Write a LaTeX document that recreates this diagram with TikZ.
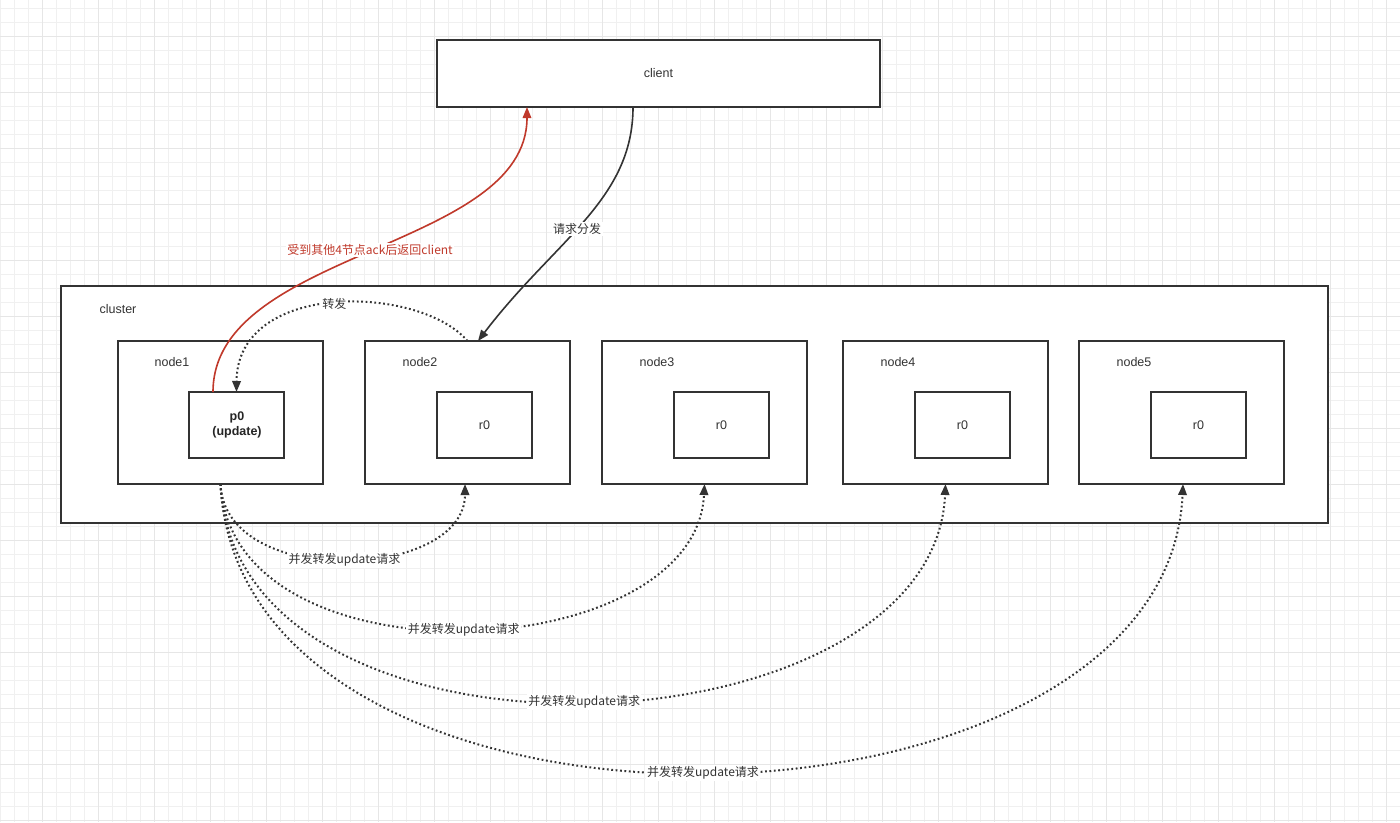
\documentclass[tikz,border=0pt]{standalone}
\usepackage{fontspec}
\setmainfont{Liberation Sans}
\newfontfamily\cjk{Noto Sans CJK SC}
\usetikzlibrary{arrows.meta}
\definecolor{ink}{HTML}{333333}
\definecolor{redline}{HTML}{C0392B}
\definecolor{gridminor}{HTML}{F0F0F0}
\definecolor{gridmajor}{HTML}{E6E6E6}
\tikzset{
  box/.style={draw=ink, line width=2pt, fill=white, inner sep=0pt, outer sep=0pt},
  lbl/.style={text=ink, font=\fontsize{12.5}{15}\selectfont, inner sep=1pt},
  clbl/.style={text=ink, font=\cjk\fontsize{12}{15}\selectfont, fill=white, inner sep=1.5pt},
  tip/.style={-{Triangle[length=11pt,width=8.5pt]}},
  dotline/.style={tip, draw=ink, line width=2pt, dash pattern=on 1.8pt off 2.6pt},
  solidline/.style={tip, draw=ink, line width=1.6pt},
  redarrow/.style={tip, draw=redline, line width=1.6pt},
}
\begin{document}
\begin{tikzpicture}[x=1pt,y=-1pt]
\useasboundingbox (0,0) rectangle (1400,822);
\fill[white] (0,0) rectangle (1400,822);
% grid
\foreach \i in {0,...,100} {
  \draw[gridminor, line width=1pt] ({\i*14+0.5},0) -- ({\i*14+0.5},822);
}
\foreach \j in {0,...,59} {
  \draw[gridminor, line width=1pt] (0,{8+\j*14+0.5}) -- (1400,{8+\j*14+0.5});
}
\foreach \i in {0,...,24} {
  \draw[gridmajor, line width=1pt] ({42+\i*56+0.5},0) -- ({42+\i*56+0.5},822);
}
\foreach \j in {0,...,14} {
  \draw[gridmajor, line width=1pt] (0,{36+\j*56+0.5}) -- (1400,{36+\j*56+0.5});
}

% client
\node[box, minimum width=443pt, minimum height=67pt] (client) at (658.5,73.5) {};
\node[lbl] (clienttext) at (658.5,73) {client};

% cluster
\node[box, minimum width=1267pt, minimum height=237pt] (cluster) at (694.5,404.5) {};
\node[lbl] (clustertext) at (118,309) {cluster};

% nodes
\node[box, minimum width=205pt, minimum height=143pt] (n1) at (220.5,412.5) {};
\node[box, minimum width=205pt, minimum height=143pt] (n2) at (467.5,412.5) {};
\node[box, minimum width=205pt, minimum height=143pt] (n3) at (704.5,412.5) {};
\node[box, minimum width=205pt, minimum height=143pt] (n4) at (945.5,412.5) {};
\node[box, minimum width=205pt, minimum height=143pt] (n5) at (1181.5,412.5) {};
\node[lbl] (t1) at (172,362) {node1};
\node[lbl] (t2) at (420,362) {node2};
\node[lbl] (t3) at (657,362) {node3};
\node[lbl] (t4) at (898,362) {node4};
\node[lbl] (t5) at (1134,362) {node5};

% shards
\node[box, minimum width=95pt, minimum height=66pt] (p0) at (236.5,425) {};
\node[lbl, text=black!85, font=\bfseries\fontsize{12.5}{14.5}\selectfont, align=center] (p0text) at (237,425) {p0\\(update)};
\node[box, minimum width=95pt, minimum height=66pt] (r2) at (484.5,425) {};
\node[lbl] (r2t) at (484.5,425) {r0};
\node[box, minimum width=95pt, minimum height=66pt] (r3) at (721.5,425) {};
\node[lbl] (r3t) at (721.5,425) {r0};
\node[box, minimum width=95pt, minimum height=66pt] (r4) at (962.5,425) {};
\node[lbl] (r4t) at (962.5,425) {r0};
\node[box, minimum width=95pt, minimum height=66pt] (r5) at (1198.5,425) {};
\node[lbl] (r5t) at (1198.5,425) {r0};

% client -> node2
\draw[solidline] ([xshift=-25.5pt]client.south) .. controls (633,200) and (555,240) .. ([xshift=10.5pt]n2.north)
  node[clbl, pos=0.54] (lblreq) {请求分发};

% red return
\draw[redarrow] ([xshift=-23.5pt]p0.north) .. controls (213,250) and (527,250) .. ([xshift=-131.5pt]client.south)
  node[clbl, text=redline, pos=0.5] (lblret) {受到其他4节点ack后返回client};

% forward
\draw[dotline] (n2.north) .. controls (420,285) and (237,280) .. (p0.north)
  node[clbl, pos=0.5] (lblfwd) {转发};

% concurrent updates
\draw[dotline] (n1.south) .. controls (225,590) and (465,580) .. ([xshift=-2.5pt]n2.south)
  node[clbl, pos=0.5] (u2) {并发转发update请求};
\draw[dotline] (n1.south) .. controls (232,690) and (696,667) .. (n3.south)
  node[clbl, pos=0.5] (u3) {并发转发update请求};
\draw[dotline] (n1.south) .. controls (235,790) and (934,760) .. (n4.south)
  node[clbl, pos=0.5] (u4) {并发转发update请求};
\draw[dotline] (n1.south) .. controls (240,880) and (1167,858) .. ([xshift=1.5pt]n5.south)
  node[clbl, pos=0.5] (u5) {并发转发update请求};
\end{tikzpicture}
\end{document}
